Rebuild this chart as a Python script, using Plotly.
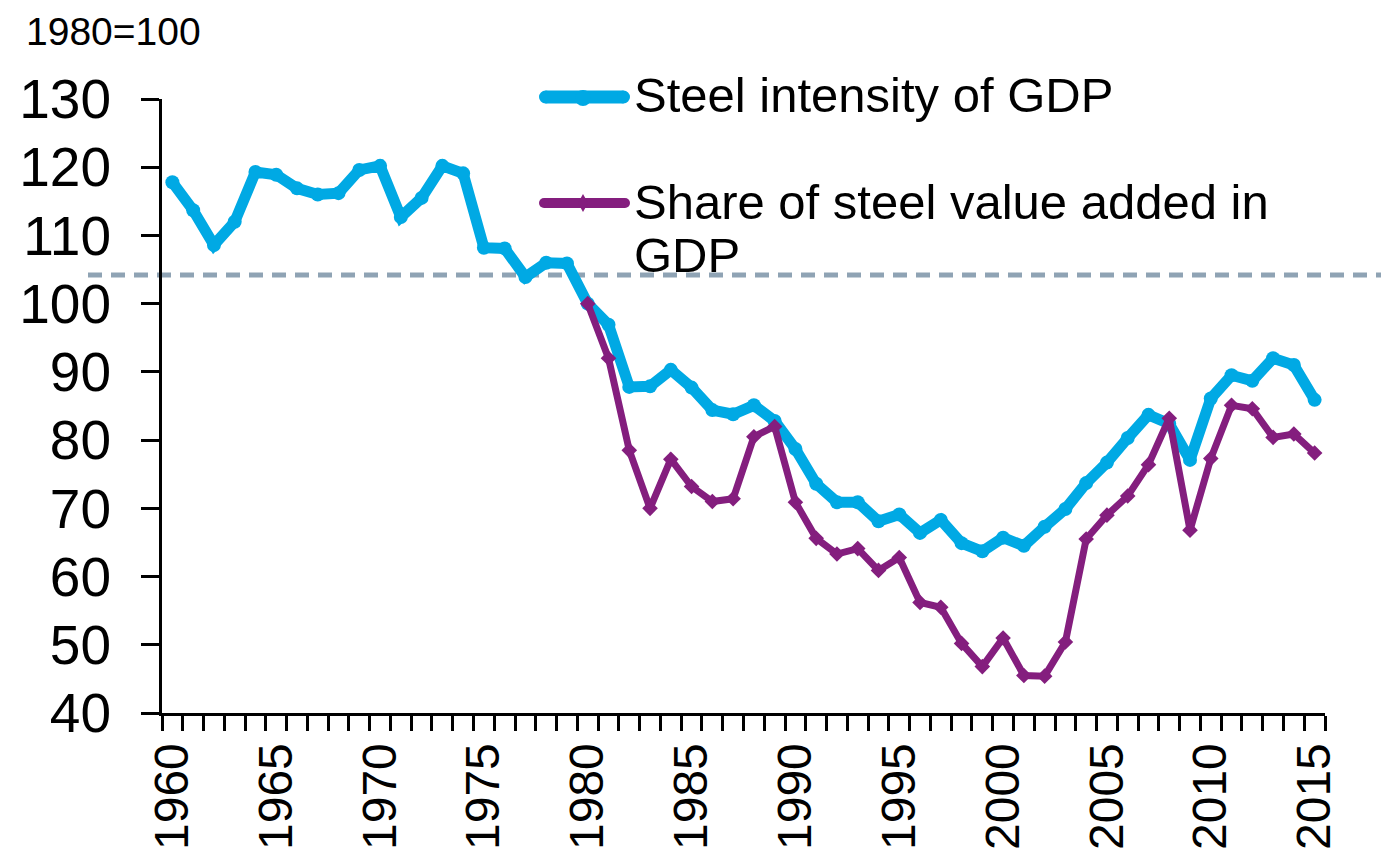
import plotly.graph_objects as go

years = list(range(1960, 2016))
steel_intensity = [117.8, 113.7, 108.6, 112.0, 119.3, 118.9, 116.9, 116.0, 116.2, 119.6,
                   120.2, 112.7, 115.5, 120.2, 119.1, 108.2, 108.1, 103.9, 106.0, 105.9,
                   100.0, 96.9, 87.8, 87.9, 90.3, 87.7, 84.4, 83.8, 85.1, 82.8,
                   78.7, 73.6, 70.9, 70.9, 68.1, 69.1, 66.4, 68.3, 64.9, 63.7,
                   65.7, 64.5, 67.3, 69.9, 73.7, 76.7, 80.3, 83.7, 82.4, 77.1,
                   86.1, 89.5, 88.7, 92.0, 91.0, 85.9]
share_years = list(range(1980, 2016))
share_value_added = [100.0, 92.0, 78.5, 70.0, 77.2, 73.2, 71.0, 71.4, 80.5, 82.0,
                     70.9, 65.6, 63.3, 64.1, 60.9, 62.8, 56.2, 55.5, 50.2, 46.8,
                     51.0, 45.5, 45.4, 50.4, 65.5, 69.0, 71.8, 76.4, 83.2, 66.8,
                     77.3, 85.1, 84.6, 80.4, 80.9, 78.1]
reference_level = 104.2
tick_years = [1960, 1965, 1970, 1975, 1980, 1985, 1990, 1995, 2000, 2005, 2010, 2015]
name_intensity = "Steel intensity of GDP"
name_share_1 = "Share of steel value added in"
name_share_2 = "GDP"
unit_note = "1980=100"

BLUE = "#00A9E4"
PURPLE = "#841E7E"
DASH = "#8FA3B4"
FONT = "Arial, Liberation Sans, sans-serif"

# page body has an 8px margin: figure is sized/offset to compensate
OFF = 8
WIN_W, WIN_H = 1389, 856
W, H = WIN_W - OFF, WIN_H - OFF
# plot area in window pixels
PL, PR, PT, PB = 162, 1325, 99, 713
L, T = PL - OFF, PT - OFF
R, B = W - (PR - OFF), H - (PB - OFF)
pw, ph = PR - PL, PB - PT

def px(x):
    return (x - PL) / pw

def py(y):
    return (PB - y) / ph

fig = go.Figure()
fig.add_trace(go.Scatter(x=years, y=steel_intensity, mode="lines+markers",
                         line=dict(color=BLUE, width=11),
                         marker=dict(symbol="circle", size=14, color=BLUE),
                         showlegend=False, name=name_intensity))
fig.add_trace(go.Scatter(x=share_years, y=share_value_added, mode="lines+markers",
                         line=dict(color=PURPLE, width=7),
                         marker=dict(symbol="diamond", size=12, color=PURPLE),
                         showlegend=False, name=name_share_1 + " " + name_share_2))

shapes = []
# dashed reference line
shapes.append(dict(type="line", xref="paper", yref="y", x0=px(88), x1=px(1389),
                   y0=reference_level, y1=reference_level,
                   line=dict(color=DASH, width=5, dash="14px,9px"), layer="below"))
# legend samples
for (yc, col, lw, sym) in [(97, BLUE, 13, "c"), (203, PURPLE, 10, "d")]:
    shapes.append(dict(type="line", xref="paper", yref="paper",
                       x0=px(539 + lw / 2), x1=px(630 - lw / 2), y0=py(yc), y1=py(yc),
                       line=dict(color=col, width=lw)))
    for xe in (539 + lw / 2, 630 - lw / 2):
        shapes.append(dict(type="circle", xref="paper", yref="paper",
                           x0=px(xe - lw / 2), x1=px(xe + lw / 2),
                           y0=py(yc + lw / 2), y1=py(yc - lw / 2),
                           fillcolor=col, line=dict(width=0)))
    if sym == "c":
        shapes.append(dict(type="circle", xref="paper", yref="paper",
                           x0=px(583 - 8), x1=px(583 + 8), y0=py(yc + 9), y1=py(yc - 7),
                           fillcolor=col, line=dict(width=0)))
    else:
        shapes.append(dict(type="path", xref="paper", yref="paper",
                           path=f"M {px(578)},{py(yc)} L {px(583)},{py(yc-9)} L {px(588)},{py(yc)} L {px(583)},{py(yc+9)} Z",
                           fillcolor=col, line=dict(width=0)))

annotations = [
    dict(text=unit_note, xref="paper", yref="paper", x=px(25), y=py(OFF + 1), xanchor="left",
         yanchor="top", borderpad=0, showarrow=False,
         font=dict(size=39, color="black", family=FONT)),
    dict(text=name_intensity, xref="paper", yref="paper", x=px(632), y=py(95), xanchor="left",
         yanchor="middle", showarrow=False, font=dict(size=49, color="black", family=FONT)),
    dict(text=name_share_1, xref="paper", yref="paper", x=px(632), y=py(202), xanchor="left",
         yanchor="middle", showarrow=False, font=dict(size=49, color="black", family=FONT)),
    dict(text=name_share_2, xref="paper", yref="paper", x=px(632), y=py(255), xanchor="left",
         yanchor="middle", showarrow=False, font=dict(size=49, color="black", family=FONT)),
]

fig.update_layout(
    width=W, height=H,
    margin=dict(l=L, r=R, t=T, b=B, pad=0, autoexpand=False),
    paper_bgcolor="white", plot_bgcolor="white",
    font=dict(family=FONT, color="black"),
    shapes=shapes, annotations=annotations,
    showlegend=False,
)
fig.update_xaxes(range=[1959.5, 2015.5], tickmode="array", tickvals=tick_years,
                 ticktext=[str(t) for t in tick_years], tickangle=-90,
                 ticks="", showgrid=False, zeroline=False, automargin=False,
                 showline=True, linecolor="black", linewidth=3,
                 tickfont=dict(size=48, family=FONT, color="black"),
                 ticklabelstandoff=8,
                 minor=dict(tick0=1959.5, dtick=1, ticks="outside", ticklen=15,
                            tickwidth=2.5, tickcolor="black", showgrid=False))
fig.update_yaxes(range=[40, 130], tickmode="array", tickvals=list(range(40, 131, 10)),
                 ticks="outside", ticklen=18, tickwidth=3, tickcolor="black",
                 showgrid=False, zeroline=False, automargin=False,
                 showline=True, linecolor="black", linewidth=3,
                 tickfont=dict(size=55, family=FONT, color="black"),
                 ticklabelstandoff=19)

fig.write_html("out.html")
